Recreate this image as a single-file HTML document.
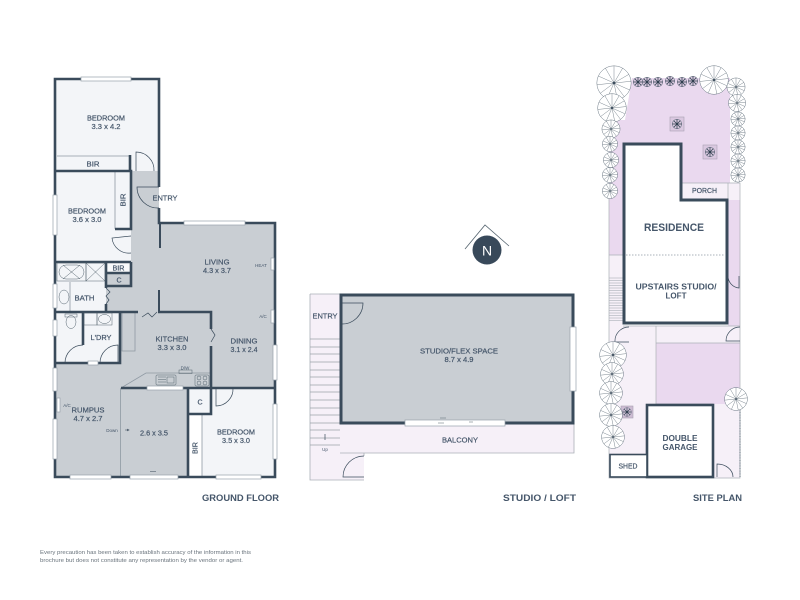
<!DOCTYPE html>
<html><head><meta charset="utf-8"><style>
html,body{margin:0;padding:0;background:#fff;width:800px;height:600px;overflow:hidden}
svg{display:block;filter:blur(.35px)}
text{font-family:"Liberation Sans",sans-serif;fill:#45566a;text-anchor:middle;font-size:7px;stroke:#45566a;stroke-width:.2}
.t{font-size:9.5px;font-weight:bold;stroke:none;fill:#45566a}
.s{font-size:4.5px;stroke:none}
.w{fill:none;stroke:#3a4b5b;stroke-width:2.6}
.l{fill:none;stroke:#8f99a3;stroke-width:.8}
.d{fill:none;stroke:#3a4b5b;stroke-width:.7}
.win{fill:#fff;stroke:#98a2ab;stroke-width:.7}
.f{fill:none;stroke:#55646f;stroke-width:.5}
.v{vector-effect:non-scaling-stroke}
</style></head><body>
<svg width="800" height="600" viewBox="0 0 800 600" xmlns="http://www.w3.org/2000/svg">
<defs>
<symbol id="tree" viewBox="-10.5 -10.5 21 21">
<circle class="v" r="10" fill="#fff" stroke="#6b7884" stroke-width=".5"/>
<path class="v" d="M0 0L0 -10M0 0L5 -8.600M0 0L8.600 -5M0 0L10 -1M0 0L9 4M0 0L6 8M0 0L2 9.800M0 0L-4 9M0 0L-8 6M0 0L-9.800 1M0 0L-9 -4M0 0L-5 -8.600" stroke="#5a6874" stroke-width=".4" fill="none"/>
<circle r=".8" fill="#3a4b5b"/>
</symbol>
<symbol id="bush" viewBox="-10.500 -10.500 21 21">
<circle r="10" fill="#d9c9df" stroke="#4a5a68" stroke-width="1"/>
<path d="M0 -10V10M-10 0H10M-7 -7L7 7M-7 7L7 -7" stroke="#2f3f4f" stroke-width="1.600"/>
</symbol>
</defs>

<!-- GROUND FLOOR -->
<rect x="55" y="79" width="104" height="92" fill="#f3f5f8"/>
<rect x="55" y="171" width="76" height="91" fill="#f3f5f8"/>
<rect x="55" y="262" width="51" height="101" fill="#f3f5f8"/>
<rect x="106" y="312" width="14" height="51" fill="#f3f5f8"/>
<rect x="188" y="388" width="87" height="89" fill="#f3f5f8"/>
<polygon points="131,171 159,171 159,223 275,223 275,388 188,388 188,477 55,477 55,363 120,363 120,312 106,312 106,286 131,286" fill="#c9ced3"/>
<rect x="107" y="273" width="24" height="13" fill="#c9ced3"/>
<rect x="112" y="236" width="19" height="17" fill="#f3f5f8"/>
<rect x="107" y="262" width="24" height="11" fill="#f8f9fa"/>
<rect x="188" y="414" width="14" height="63" fill="#fff"/>

<!-- light lines -->
<path class="l" d="M57 156H130M115 172V229M122 312V351H135V312M120.500 388V476M202 415V476M121 388L146 373H210"/>
<path class="l" d="M70 282V312"/>
<!-- walls -->
<path class="w" d="M159 187V79H55V477H275V223H159V208"/>
<path class="w" d="M55 171H131V229H115M131 262V286H106V262H55M107 262H131M107 273H131M106 286V288M106 304V312M55 312H138M158 312H211V329M211 346V414H188V388M121 388H275M188 414V477M120 312V363H55M83 312V345M130 155V172"/>
<path d="M160 223V248M159 290V312" stroke="#3a4b5b" stroke-width="2" fill="none"/>
<!-- windows -->
<rect class="win" x="81" y="77" width="50" height="4"/>
<rect class="win" x="53" y="195" width="4" height="40"/>
<rect class="win" x="184" y="221" width="61" height="4"/>
<rect class="win" x="53" y="284" width="4" height="24"/>
<rect class="win" x="53" y="320" width="4" height="16"/>
<rect class="win" x="53" y="368" width="4" height="23"/>
<rect class="win" x="53" y="419" width="4" height="40"/>
<rect class="win" x="273" y="345" width="4" height="35"/>
<rect class="win" x="273" y="404" width="4" height="55"/>
<rect class="win" x="70" y="475" width="41" height="4"/>
<rect class="win" x="130" y="475" width="48" height="4"/>
<rect class="win" x="216" y="475" width="45" height="4"/>
<rect class="win" x="147" y="386" width="36" height="4"/>
<rect class="win" x="88" y="361" width="10" height="4"/>
<rect class="win" x="271" y="258" width="3" height="12"/>
<rect class="win" x="271" y="310" width="3" height="13"/>
<rect class="win" x="57" y="398" width="3" height="14"/>
<!-- doors -->
<path class="d" d="M136 171V152A18 18 0 0 1 154 171"/>
<path class="d" d="M159 187H137A21 21 0 0 0 159 208"/>
<path class="d" d="M131 236L112 238A17 17 0 0 0 131 253"/>
<path class="d" d="M83 345A18 18 0 0 0 65 363"/>
<path class="d" d="M118 363V345A18 18 0 0 0 100 363"/>
<path class="d" d="M216 388V406A17 17 0 0 0 233 388"/>
<path class="d" d="M142 317L148 313L152 317L157 312M106 288L110 292L106 296L109 300L106 304M211 329L215 335L211 342"/>
<!-- fixtures -->
<rect class="f" x="57" y="263" width="29" height="18" fill="#f3f5f8"/>
<rect class="f" x="59" y="265" width="25" height="14" rx="7"/>
<path class="f" d="M63 265L80 279M63 279L80 265"/>
<rect class="f" x="86" y="263" width="19" height="18"/>
<path class="f" d="M86 263L105 281M86 281L105 263"/>
<ellipse class="f" cx="64" cy="297" rx="5" ry="7"/>
<ellipse class="f" cx="71" cy="322" rx="5" ry="6.500"/>
<rect class="f" x="65" y="314" width="12" height="3"/>
<rect class="f" x="84" y="313" width="13" height="12"/>
<rect class="f" x="97" y="313" width="15" height="12"/>
<ellipse class="f" cx="104.500" cy="319" rx="6" ry="4.500"/>
<rect class="f" x="156" y="375" width="20" height="10" rx="1"/>
<path class="f" d="M158 377H166M158 379.500H166M158 382H166"/>
<rect class="f" x="167" y="377" width="7" height="6"/>
<rect class="f" x="179" y="370" width="13" height="3.500"/>
<rect class="f" x="195" y="375" width="14" height="11" rx="1"/>
<circle class="f" cx="199" cy="378" r="2"/><circle class="f" cx="205" cy="378" r="2"/>
<circle class="f" cx="199" cy="383" r="2"/><circle class="f" cx="205" cy="383" r="2"/>
<path d="M125 430H128M127 429L129 430L127 431M150 471.500H156" stroke="#3a4b5b" stroke-width=".6" fill="none"/>
<!-- labels -->
<text x="106" y="120.500" textLength="38" lengthAdjust="spacingAndGlyphs">BEDROOM</text><text x="106" y="129" textLength="29" lengthAdjust="spacingAndGlyphs">3.3 x 4.2</text>
<text x="93" y="166.500" textLength="13" lengthAdjust="spacingAndGlyphs">BIR</text>
<text x="87" y="213.500" textLength="38" lengthAdjust="spacingAndGlyphs">BEDROOM</text><text x="87" y="222" textLength="29" lengthAdjust="spacingAndGlyphs">3.6 x 3.0</text>
<text transform="translate(125.500,200) rotate(-90)" textLength="13" lengthAdjust="spacingAndGlyphs">BIR</text>
<text x="165" y="200.500" textLength="25" lengthAdjust="spacingAndGlyphs">ENTRY</text>
<text x="217" y="264.500" textLength="25" lengthAdjust="spacingAndGlyphs">LIVING</text><text x="217" y="273" textLength="28" lengthAdjust="spacingAndGlyphs">4.3 x 3.7</text>
<text class="s" x="261" y="267">HEAT</text>
<text x="118.500" y="270.500" textLength="12" lengthAdjust="spacingAndGlyphs">BIR</text><text x="119" y="282.500">C</text>
<text x="84.500" y="300.500" textLength="20" lengthAdjust="spacingAndGlyphs">BATH</text>
<text x="101" y="340" textLength="21" lengthAdjust="spacingAndGlyphs">L'DRY</text>
<text x="172" y="341.500" textLength="33" lengthAdjust="spacingAndGlyphs">KITCHEN</text><text x="172" y="350" textLength="29" lengthAdjust="spacingAndGlyphs">3.3 x 3.0</text>
<text x="244" y="343.500" textLength="27" lengthAdjust="spacingAndGlyphs">DINING</text><text x="244" y="352" textLength="27" lengthAdjust="spacingAndGlyphs">3.1 x 2.4</text>
<text class="s" x="185" y="369.500">D/W</text>
<text class="s" x="263" y="318">A/C</text><text class="s" x="67" y="407">A/C</text>
<text x="88" y="412.500" textLength="33" lengthAdjust="spacingAndGlyphs">RUMPUS</text><text x="88" y="421" textLength="29" lengthAdjust="spacingAndGlyphs">4.7 x 2.7</text>
<text class="s" x="112" y="432">Down</text>
<text x="154" y="435.500" textLength="28" lengthAdjust="spacingAndGlyphs">2.6 x 3.5</text>
<text x="200" y="404.500">C</text>
<text transform="translate(197.500,448) rotate(-90)" textLength="12" lengthAdjust="spacingAndGlyphs">BIR</text>
<text x="236" y="434.500" textLength="38" lengthAdjust="spacingAndGlyphs">BEDROOM</text><text x="236" y="443" textLength="28" lengthAdjust="spacingAndGlyphs">3.5 x 3.0</text>
<text class="t" x="240.500" y="501" textLength="77" lengthAdjust="spacingAndGlyphs">GROUND FLOOR</text>

<!-- NORTH -->
<path d="M465 249L485 225L509 246" fill="none" stroke="#55646f" stroke-width=".8"/>
<circle cx="487" cy="250" r="14.500" fill="#38495a"/>
<text x="487" y="255.500" style="font-size:14px;fill:#fff;stroke:none">N</text>

<!-- STUDIO -->
<rect x="310" y="294" width="30" height="186" fill="#f6f0f8"/>
<rect x="340" y="424" width="234" height="29" fill="#f6f0f8"/>
<rect x="340" y="453" width="24" height="27" fill="#f6f0f8"/>
<path d="M310 294H340M310 294V480H364M340 453H574V424M364 453V456" fill="none" stroke="#aab0b6" stroke-width=".8"/>
<path d="M310 339H340M310 347H340M310 354H340M310 362H340M310 370H340M310 377H340M310 385H340M310 392H340M310 400H340M310 408H340M310 415H340M310 423H340M310 430H340M310 438H340M310 445H340" stroke="#9aa2a9" stroke-width=".7"/>
<rect x="341" y="295" width="232" height="128" fill="#c9ced3" stroke="#3a4b5b" stroke-width="3"/>
<rect class="win" x="570" y="327" width="6" height="64"/>
<rect class="win" x="405" y="420" width="100" height="6"/>
<path d="M440 418H446M438 423H444M469 422H473" stroke="#55646f" stroke-width=".6"/>
<path class="d" d="M341 303H363A21 21 0 0 1 341 324"/>
<path class="d" d="M364 477H343A21 21 0 0 1 364 456"/>
<path d="M325 434V440" stroke="#3a4b5b" stroke-width=".7"/>
<text x="459" y="353.500" textLength="78" lengthAdjust="spacingAndGlyphs">STUDIO/FLEX SPACE</text><text x="459" y="362" textLength="29" lengthAdjust="spacingAndGlyphs">8.7 x 4.9</text>
<text x="325" y="318.500" textLength="25" lengthAdjust="spacingAndGlyphs">ENTRY</text>
<text x="460" y="442.500" textLength="36" lengthAdjust="spacingAndGlyphs">BALCONY</text>
<text class="s" x="325" y="451">Up</text>
<text class="t" x="539.500" y="501" textLength="73" lengthAdjust="spacingAndGlyphs">STUDIO / LOFT</text>

<!-- SITE PLAN -->
<rect x="609" y="255" width="14" height="72" fill="#f6f0f8"/>
<rect x="609" y="326" width="131" height="152" fill="#f6f0f8"/>
<polygon points="632,78 730,78 730,183 682,183 682,143 623,143 623,255 609,255 609,120 625,120" fill="#ead9ef"/>
<rect x="728" y="200" width="12" height="126" fill="#ead9ef"/>
<rect x="682" y="183" width="46" height="17" fill="#f6f0f8"/>
<rect x="728" y="183" width="12" height="17" fill="#f6f0f8"/>
<rect x="656" y="343" width="84" height="61" fill="#ead9ef"/>
<path d="M682 183H740V200M728 183V200M609 190V478H740V404M740 200V404M656 326V404H713M656 343H740M623 326H740M609 255H623" fill="none" stroke="#aab0b6" stroke-width=".7"/>
<path d="M740 404V477" stroke="#8f99a3" stroke-width="1.400" stroke-dasharray="1 .6"/>
<path d="M609 278H623M609 280.500H623M609 283H623M609 285.500H623M609 288H623M609 290.500H623M609 293H623M609 295.500H623M609 298H623M609 300.500H623M609 303H623M609 305.500H623M609 308H623M609 310.500H623M609 313H623M609 315.500H623M609 318H623M609 320.500H623" stroke="#9aa2a9" stroke-width=".6"/>
<polygon points="624,144 681,144 681,200 727,200 727,323 624,323" fill="#fff" stroke="#3a4b5b" stroke-width="3"/>
<path d="M626 255H725" stroke="#8f99a3" stroke-width=".7" stroke-dasharray="1.500 1.500"/>
<rect x="647" y="405" width="66" height="72" fill="#fff" stroke="#3a4b5b" stroke-width="2.600"/>
<rect x="610" y="454.500" width="37" height="22.500" fill="#fff" stroke="#3a4b5b" stroke-width="1.600"/>
<path class="d" d="M739 276V288A12 12 0 0 1 728 276M629 342H615A14 14 0 0 1 629 327M740 341H726A14 14 0 0 1 740 327M717 477V464A16 13 0 0 1 733 477"/>
<rect x="670" y="117" width="14" height="14" fill="#dac8e0" stroke="#a9a0b2" stroke-width=".6"/>
<rect x="703" y="145" width="14" height="14" fill="#dac8e0" stroke="#a9a0b2" stroke-width=".6"/>
<rect x="621" y="406" width="12" height="12" fill="#cdbcd3" stroke="#a9a0b2" stroke-width=".6"/>
<use href="#bush" x="672" y="119" width="10" height="10"/>
<use href="#bush" x="705" y="147" width="10" height="10"/>
<use href="#bush" x="622.500" y="407.500" width="9" height="9"/>
<use href="#bush" x="633" y="77" width="10" height="10"/>
<use href="#bush" x="642" y="77" width="10" height="10"/>
<use href="#bush" x="653" y="77" width="10" height="10"/>
<use href="#bush" x="665" y="76" width="10" height="10"/>
<use href="#bush" x="677" y="77" width="10" height="10"/>
<use href="#bush" x="688" y="76" width="10" height="10"/>
<use href="#tree" x="596" y="65" width="36" height="36"/>
<use href="#tree" x="699" y="65" width="30" height="30"/>
<use href="#tree" x="597" y="93" width="30" height="30"/>
<use href="#tree" x="601.500" y="119.500" width="19" height="19"/>
<use href="#tree" x="602" y="136" width="16" height="16"/>
<use href="#tree" x="603" y="152" width="16" height="16"/>
<use href="#tree" x="602" y="167" width="16" height="16"/>
<use href="#tree" x="602" y="183" width="16" height="16"/>
<use href="#tree" x="726.500" y="77.500" width="19" height="19"/>
<use href="#tree" x="728" y="94" width="18" height="18"/>
<use href="#tree" x="730.500" y="111.500" width="15" height="15"/>
<use href="#tree" x="730.500" y="125.500" width="15" height="15"/>
<use href="#tree" x="730.500" y="139.500" width="15" height="15"/>
<use href="#tree" x="730.500" y="153.500" width="15" height="15"/>
<use href="#tree" x="730.500" y="167.500" width="15" height="15"/>
<use href="#tree" x="599" y="341" width="28" height="28"/>
<use href="#tree" x="600" y="362" width="24" height="24"/>
<use href="#tree" x="599" y="381" width="24" height="24"/>
<use href="#tree" x="599" y="403" width="24" height="24"/>
<use href="#tree" x="601" y="425" width="24" height="24"/>
<use href="#tree" x="724" y="387" width="24" height="24"/>
<text x="704.500" y="193" textLength="25" lengthAdjust="spacingAndGlyphs">PORCH</text>
<text x="674" y="231" textLength="60" lengthAdjust="spacingAndGlyphs" style="font-size:11px;font-weight:bold;stroke:none">RESIDENCE</text>
<text x="676" y="289.500" textLength="81" lengthAdjust="spacingAndGlyphs" style="font-size:8px;font-weight:bold;stroke:none">UPSTAIRS STUDIO/</text>
<text x="676" y="298.500" textLength="21" lengthAdjust="spacingAndGlyphs" style="font-size:8px;font-weight:bold;stroke:none">LOFT</text>
<text x="680" y="441" textLength="35" lengthAdjust="spacingAndGlyphs" style="font-size:8px;font-weight:bold;stroke:none">DOUBLE</text>
<text x="680" y="450" textLength="35" lengthAdjust="spacingAndGlyphs" style="font-size:8px;font-weight:bold;stroke:none">GARAGE</text>
<text x="628" y="468.500" textLength="19" lengthAdjust="spacingAndGlyphs">SHED</text>
<text class="t" x="717.500" y="501" textLength="49" lengthAdjust="spacingAndGlyphs">SITE PLAN</text>

<!-- DISCLAIMER -->
<text class="s" x="40" y="554" textLength="211" lengthAdjust="spacingAndGlyphs" style="text-anchor:start;font-size:5.5px;fill:#6a747d">Every precaution has been taken to establish accuracy of the information in this</text>
<text class="s" x="40" y="562" textLength="203" lengthAdjust="spacingAndGlyphs" style="text-anchor:start;font-size:5.5px;fill:#6a747d">brochure but does not constitute any representation by the vendor or agent.</text>
</svg>
</body></html>
